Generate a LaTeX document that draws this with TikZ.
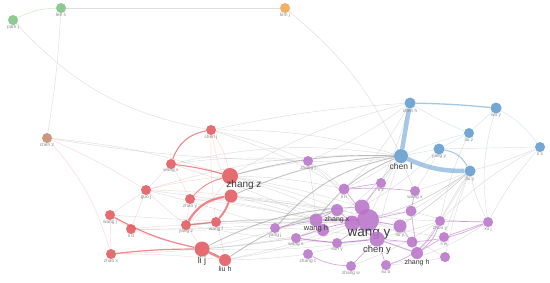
\documentclass[tikz,border=0pt]{standalone}
\usepackage{fontspec}
\setmainfont{Liberation Sans}
\usetikzlibrary{backgrounds,shadows}
\definecolor{cred}{HTML}{E4575D}
\definecolor{cpur}{HTML}{BA72CA}
\definecolor{cblu}{HTML}{5F9BD0}
\definecolor{cgrn}{HTML}{7CC47F}
\definecolor{cora}{HTML}{F5A54A}
\definecolor{cbrn}{HTML}{C48B6B}
\definecolor{edgeg}{HTML}{B5B5B5}
\definecolor{labg}{HTML}{8A8A8A}
\definecolor{labd}{HTML}{3C3C3C}
\begin{document}
\begin{tikzpicture}[x=1pt,y=-1pt,
  nd/.style={circle,inner sep=0pt,minimum size=#1,draw=none,fill opacity=0.85,
    drop shadow={shadow xshift=0.5pt,shadow yshift=-0.7pt,opacity=0.12}},
  nd/.default=10pt,
  R/.style={nd=#1,fill=cred}, R/.default=10pt,
  P/.style={nd=#1,fill=cpur}, P/.default=10pt,
  B/.style={nd=#1,fill=cblu}, B/.default=10pt,
  lab/.style={font=\fontsize{4.8}{5}\selectfont,text=labg,inner sep=0.3pt,text opacity=1},
  big/.style={font=\fontsize{#1}{#1}\selectfont,text=labd,inner sep=0.3pt,text opacity=1},
  every label/.style={label distance=-0.3pt},
  ge/.style={draw=edgeg,line width=0.45pt,opacity=0.45},
  gd/.style={draw=edgeg!80!black,line width=0.9pt,opacity=0.55},
  re/.style={draw=cred,line width=#1,opacity=0.7}, re/.default=1pt,
  lre/.style={draw=cred!60,line width=0.45pt,opacity=0.4},
  pe/.style={draw=cpur,line width=#1,opacity=0.6}, pe/.default=0.7pt,
  be/.style={draw=cblu,line width=#1,opacity=0.55}, be/.default=1pt,
  lbe/.style={draw=cblu!60,line width=0.45pt,opacity=0.45}]
\useasboundingbox (0,0) rectangle (550,282);

% ---- green / orange / brown
\node[nd,fill=cgrn,label={[lab]below:park j}] (parkj) at (13,20) {};
\node[nd,fill=cgrn,label={[lab]below:lee s}] (lees) at (61,8) {};
\node[nd,fill=cora,label={[lab]below:kim j}] (kimj) at (285,8) {};
\node[nd,fill=cbrn,label={[lab]below:chen z}] (chenz) at (47,138) {};

% ---- red
\node[R,label={[lab]below:chen j}] (chenj) at (211,130) {};
\node[R,label={[lab]below:wang x}] (wangx) at (171,164) {};
\node[R=16pt] (zhangz) at (230,176) {};
\node[R=13pt] (rz2) at (231,196) {};
\node[big=10] (zzlab) at (244,185) {zhang z};
\node[R,label={[lab]below:zhao y}] (zhaoy) at (190,199) {};
\node[R,label={[lab]below:guo j}] (guoj) at (146,190) {};
\node[R,label={[lab]below:wang j}] (wangj) at (110,215) {};
\node[R,label={[lab]below:li d}] (lid) at (131,229) {};
\node[R,label={[lab]below:yang z}] (yangz) at (186,225) {};
\node[R,label={[lab]below:wang f}] (wangf) at (216,222) {};
\node[R,label={[lab]below:zhao x}] (zhaox) at (111,254) {};
\node[R=15pt,label={[big=9]below:li j}] (lij) at (202,249) {};
\node[R=12pt,label={[big=7]below:liu h}] (liuh) at (225,260) {};

% ---- purple
\node[P,label={[lab]below:zhang j}] (zhangj) at (308,161) {};
\node[P=11pt,label={[lab]below:li n}] (lin) at (344,189) {};
\node[P,label={[lab]below:li z}] (liz) at (381,183) {};
\node[P,label={[lab]below:wang x}] (wangxp) at (415,191) {};
\node[P=15pt] (p2) at (362,207) {};
\node[P=11pt] (p3) at (411,211) {};
\node[P=13pt] (wangh) at (316,220) {};
\node[P=12pt] (p7) at (323,230) {};
\node[P=15pt] (p4) at (352,223) {};
\node[P=12pt,label={[big=7]below:zhang x}] (zhangx) at (337,210) {};
\node[P=22pt] (wangy) at (368,220) {};
\node[big=7.5] (whlab) at (316,229) {wang h};
\node[big=13.5] (wylab) at (369,234) {wang y};
\node[P=13pt,label={[lab]below:liu y}] (liuyp) at (400,226) {};
\node[P,label={[lab]below:zhou y}] (zhouy) at (440,221) {};
\node[P,label={[lab]below:yang j}] (yangp) at (275,228) {};
\node[P,label={[lab]below:wang s}] (wangs) at (296,238) {};
\node[P,label={[lab]below:sun y}] (suny) at (337,243) {};
\node[P=15pt] (cheny) at (377,239) {};
\node[big=9.5] (cylab) at (377,250) {chen y};
\node[P=11pt] (p5) at (412,242) {};
\node[P=12pt,label={[big=7]below:zhang h}] (zhangh) at (417,253) {};
\node[P,label={[lab]below:li w}] (liw) at (444,237) {};
\node[P] (p6) at (445,257) {};
\node[P,label={[lab]below:zhang c}] (zhangc) at (308,254) {};
\node[P,label={[lab]below:zhang w}] (zhangw) at (351,266) {};
\node[P,label={[lab]below:liu b}] (liub) at (386,265) {};
\node[P,label={[lab]below:xu j}] (xuj) at (488,222) {};

% ---- blue
\node[B=11pt,label={[lab]below:chen h}] (chenh) at (410,103) {};
\node[B=11pt,label={[lab]below:wu y}] (wuy) at (496,108) {};
\node[B,label={[lab]below:liu z}] (liuz) at (469,133) {};
\node[B=11pt,label={[lab]below:yang y}] (yangy) at (439,149) {};
\node[B=14pt,label={[big=8.5]below:chen l}] (chenl) at (401,156) {};
\node[B=11pt,label={[lab]below:liu y}] (liuy) at (470,171) {};
\node[B,label={[lab]below:li s}] (lis) at (540,147) {};

\begin{scope}[on background layer]
% long light gray links
\draw[draw=cgrn,line width=0.5pt,opacity=0.4] (parkj) to[bend left=12] (lees);
\draw[ge] (lees) -- (kimj);
\draw[ge] (lees) to[bend left=3] (chenz);
\draw[ge] (parkj) to[bend right=18] (chenj);
\draw[ge] (chenj) to[bend left=4] (chenh);
\draw[ge] (kimj) to[bend left=12] (chenl);
\draw[lre] (chenz) to[bend left=4] (guoj);
\draw[ge] (chenz) to[bend left=6] (zhangz);
\draw[lre] (chenz) to[bend left=12] (zhaox);
\draw[ge] (chenz) to[bend right=4] (zhangj);
% red <-> purple / blue
\foreach \a/\b/\c in {zhangz/zhangj/3,zhangz/wangy/4,zhangz/cheny/6,zhangz/p2/3,zhangz/lin/5,
  rz2/wangy/3,rz2/wangh/2,rz2/p4/4,rz2/zhangx/3,liuh/wangy/-6,lij/wangy/-4,lij/zhangx/-3,
  lij/cheny/-5,liuh/p4/-4,wangf/wangy/3,wangf/wangh/2,yangz/wangh/3,yangz/p4/2,
  zhaoy/zhangx/4,zhaoy/wangh/3,wangx/zhangj/6,wangx/wangh/4,chenj/zhangj/5,chenj/lin/6,
  guoj/wangh/3,guoj/yangp/2,lid/yangp/-2,lid/wangh/-3,wangj/p4/-2,zhaox/wangs/-3,
  wangx/chenl/10,chenj/chenl/8,guoj/chenl/9,yangz/suny/-3,lij/wangs/-2,liuh/zhangc/-3,
  zhangz/chenh/8,chenh/zhangj/6}
  \draw[ge] (\a) to[bend left=\c] (\b);
\draw[gd] (zhangz) to[bend left=8] (chenl);
\draw[gd] (rz2) to[bend left=10] (chenl);
\draw[gd] (wangh) to[bend left=14] (chenl);
\draw[gd] (yangp) to[bend left=18] (chenl);
\draw[gd] (lij) to[bend left=12] (p2);
\draw[gd] (liuh) to[bend left=10] (zhangx);
% blue <-> purple
\foreach \a/\b/\c in {chenl/wangy/-3,chenl/p2/-2,chenl/lin/4,chenl/liz/2,chenl/wangxp/-3,
  chenl/zhangj/6,chenl/wangs/12,chenl/cheny/-4,liuy/wangxp/3,liuy/p3/3,liuy/zhouy/-3,
  liuy/xuj/-8,liuy/liuyp/4,liuy/cheny/6,liuy/zhangh/3,liuy/wangy/8,liuy/p4/10,
  lis/xuj/-6,lis/zhouy/-8,lis/liuy/4,wuy/xuj/-12,chenh/lin/8,yangy/p2/6,yangy/wangxp/4,
  liuz/zhouy/-6,chenh/liz/4,liuy/liw/-3,liuy/p6/-4}
  \draw[ge] (\a) to[bend left=\c] (\b);
% purple internal gray
\foreach \a/\b/\c in {zhangj/wangy/3,zhangj/lin/3,zhangj/wangh/2,yangp/wangy/3,yangp/cheny/4,
  wangs/p3/6,zhangc/p5/8,zhangw/zhouy/-6,liub/xuj/-10,suny/zhouy/-6,p6/liub/4,p6/wangy/-4,
  xuj/p3/8,liw/wangy/5,zhangx/zhouy/-4}
  \draw[ge] (\a) to[bend left=\c] (\b);
% red internal
\draw[re=1.1pt] (chenj) to[bend right=30] (wangx);
\draw[re=1.1pt] (wangx) to[bend left=4] (zhangz);
\draw[lre] (chenj) to[bend left=10] (zhangz);
\draw[re=0.9pt] (zhaoy) to[bend left=15] (zhangz);
\draw[re=2.3pt] (rz2) to[bend right=25] (yangz);
\draw[re=2pt] (rz2) to[bend left=10] (wangf);
\draw[re=1.4pt] (yangz) -- (wangf);
\draw[re=1.2pt] (wangj) to[bend right=8] (lij);
\draw[re=2.5pt] (lij) -- (liuh);
\draw[re=1.2pt] (zhaox) to[bend left=3] (lij);
\foreach \a/\b/\c in {guoj/wangj/0,wangj/lid/0,wangj/zhaox/0,guoj/lid/0,guoj/wangx/0,
  guoj/zhangz/4,zhaoy/yangz/0,wangf/liuh/4,lid/lij/-4,yangz/lij/0,zhangz/yangz/6,
  chenj/rz2/-6,guoj/yangz/-3,wangx/zhaoy/2,chenj/wangf/-4,guoj/rz2/3,lid/yangz/2,zhaox/liuh/3}
  \draw[lre] (\a) to[bend left=\c] (\b);
% purple internal
\draw[pe] (lin) -- (liz);
\draw[pe] (lin) to[bend left=4] (wangxp);
\draw[pe] (lin) -- (wangy);
\draw[pe=1.2pt] (p2) -- (wangy);
\draw[pe=1.6pt] (wangh) -- (wangy);
\draw[pe] (wangh) -- (zhangx);
\draw[pe] (zhangx) -- (p4);
\draw[pe] (wangs) to[bend right=8] (cheny);
\draw[pe] (wangs) to[bend left=6] (wangy);
\draw[pe] (yangp) -- (wangh);
\draw[pe] (suny) -- (cheny);
\draw[pe] (suny) -- (wangy);
\draw[pe] (zhangc) to[bend right=12] (zhangw);
\draw[pe] (zhangw) -- (cheny);
\draw[pe] (liub) -- (cheny);
\draw[pe=1pt] (cheny) -- (zhangh);
\draw[pe] (zhangh) to[bend right=18] (zhouy);
\draw[pe] (liub) to[bend right=22] (zhouy);
\draw[pe] (liuyp) -- (p5);
\draw[pe] (p3) -- (zhangh);
\draw[pe] (liw) -- (xuj);
\draw[pe] (zhouy) -- (xuj);
\draw[pe] (p5) to[bend right=10] (xuj);
\draw[pe=1pt] (wangy) -- (liuyp);
\draw[pe] (wangxp) -- (p3);
\draw[pe] (p3) -- (wangy);
\draw[pe] (cheny) -- (p5);
\draw[pe] (zhangh) -- (liw);
\draw[pe] (p4) -- (cheny);
\draw[pe] (wangs) -- (suny);
\draw[pe] (liz) -- (p2);
% blue internal
\draw[be=4.5pt] (chenl) -- (chenh);
\draw[be=4.5pt] (chenl) to[bend right=12] (liuy);
\draw[be=1.3pt] (chenh) to[bend left=2] (wuy);
\draw[be=1pt] (yangy) to[bend left=25] (liuy);
\foreach \a/\b/\c in {chenh/liuz/-4,yangy/liuz/0,wuy/lis/12,yangy/lis/0,chenl/yangy/0,
  liuz/wuy/0,chenl/liuz/4}
  \draw[lbe] (\a) to[bend left=\c] (\b);
\end{scope}
\end{tikzpicture}
\end{document}
